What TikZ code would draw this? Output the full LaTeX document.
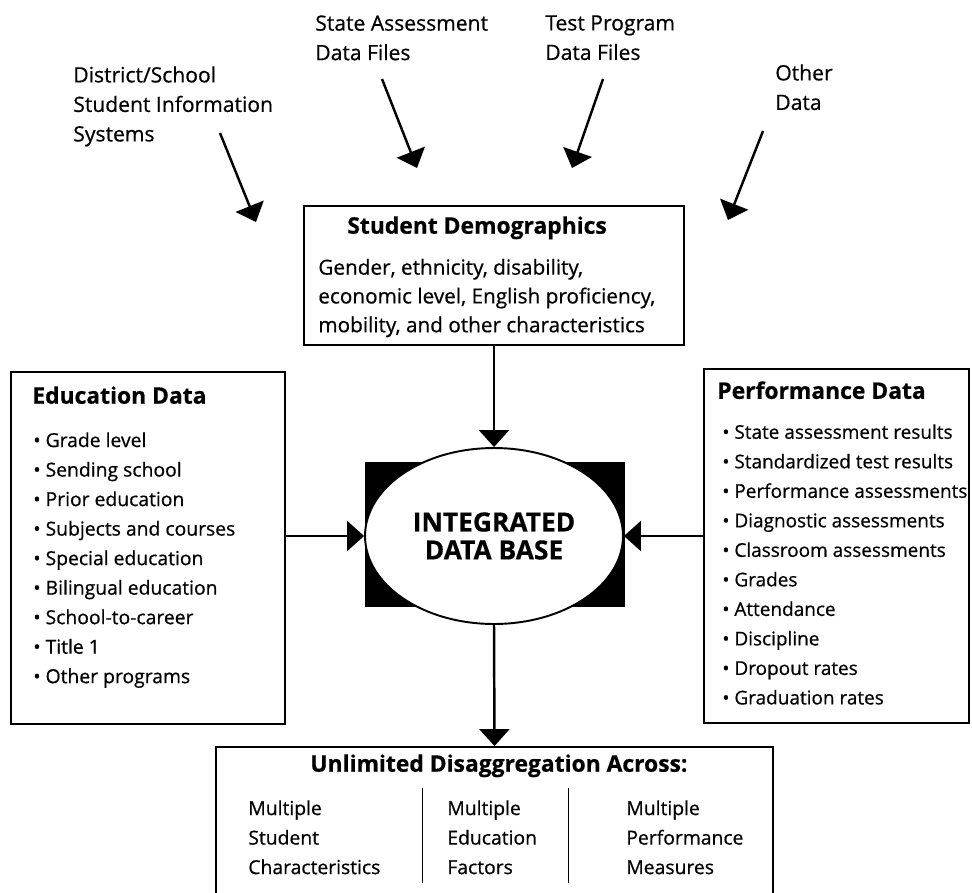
\documentclass[tikz,border=0pt]{standalone}
\usepackage{fontspec}
\setmainfont{Open Sans}[FakeBold=0.6]
\usetikzlibrary{arrows.meta,shapes.geometric}

\begin{document}
\begin{tikzpicture}[x=0.02cm,y=-0.02cm]
	\tikzstyle{panel}=[draw=black,line width=1.1pt,inner sep=0pt]
	\tikzstyle{txt}=[anchor=north west,inner sep=0pt,align=left,font=\fontsize{12}{16.8}\selectfont]
	\tikzstyle{item}=[anchor=north west,inner sep=0pt,align=left,font=\fontsize{11}{16.8}\selectfont]
	\tikzstyle{head}=[anchor=north west,inner sep=0pt,font=\fontsize{13}{16}\selectfont\bfseries]
	\tikzstyle{feed}=[-{Triangle[length=3.4mm,width=6mm]},line width=1.4pt]
	\useasboundingbox (0,0) rectangle (972,892);
	\node[txt](src1) at (73,66) {District/School\\Student Information\\Systems};
	\node[txt](src2) at (315,15) {State Assessment\\Data Files};
	\node[txt](src3) at (545,15) {Test Program\\Data Files};
	\node[txt](src4) at (775,64) {Other\\Data};
	\coordinate (s1) at (220,133);
	\coordinate (t1) at (256,222);
	\coordinate (s2) at (382,79);
	\coordinate (t2) at (417,168);
	\coordinate (s3) at (603,79);
	\coordinate (t3) at (572,168);
	\coordinate (s4) at (763,131);
	\coordinate (t4) at (728,220);
	\draw[feed](s1) -- (t1);
	\draw[feed](s2) -- (t2);
	\draw[feed](s3) -- (t3);
	\draw[feed](s4) -- (t4);
	\node[panel,minimum width=7.6cm,minimum height=2.78cm](demo) at (494,275.5) {};
	\node[head](demotitle) at (347,216) {Student Demographics};
	\node[item,font=\fontsize{11.8}{16.4}\selectfont](demotext) at (318,258.5) {Gender, ethnicity, disability,\\economic level, English proficiency,\\mobility, and other characteristics};
	\node[panel,minimum width=5.48cm,minimum height=7.04cm](edu) at (148,548) {};
	\node[head](edutitle) at (32,386) {Education Data};
	\node[item](edulist) at (33,432) {\textbullet\ Grade level\\\textbullet\ Sending school\\\textbullet\ Prior education\\\textbullet\ Subjects and courses\\\textbullet\ Special education\\\textbullet\ Bilingual education\\\textbullet\ School-to-career\\\textbullet\ Title 1\\\textbullet\ Other programs};
	\node[panel,minimum width=5.3cm,minimum height=7.08cm](perf) at (836.5,546) {};
	\node[head](perftitle) at (717,381) {Performance Data};
	\node[item,font=\fontsize{10.8}{16.8}\selectfont](perflist) at (722,424) {\textbullet\ State assessment results\\\textbullet\ Standardized test results\\\textbullet\ Performance assessments\\\textbullet\ Diagnostic assessments\\\textbullet\ Classroom assessments\\\textbullet\ Grades\\\textbullet\ Attendance\\\textbullet\ Discipline\\\textbullet\ Dropout rates\\\textbullet\ Graduation rates};
	\node[fill=black,inner sep=0pt,minimum width=5.2cm,minimum height=2.9cm](shade) at (495,534.5) {};
	\node[ellipse,draw=black,line width=1.1pt,fill=white,inner sep=0pt,minimum width=5.16cm,minimum height=3.52cm,align=center,font=\fontsize{15}{15.9}\selectfont\bfseries](db) at (494,536) {INTEGRATED\\DATA BASE};
	\node[panel,minimum width=11.14cm,minimum height=3.2cm](unlim) at (494.5,827) {};
	\node[head](unlimtitle) at (310,754) {Unlimited Disaggregation Across:};
	\node[item](col1) at (248,800) {Multiple\\Student\\Characteristics};
	\node[item](col2) at (447,800) {Multiple\\Education\\Factors};
	\node[item](col3) at (626,800) {Multiple\\Performance\\Measures};
	\draw[line width=0.5pt](422,788) -- (422,883);
	\draw[line width=0.5pt](568,788) -- (568,883);
	\draw[feed](demo.south) -- (db.north);
	\draw[feed](db.west -| edu.east) -- (db.west);
	\draw[feed](db.east -| perf.west) -- (db.east);
	\draw[feed](db.south) -- (unlim.north);
\end{tikzpicture}
\end{document}
